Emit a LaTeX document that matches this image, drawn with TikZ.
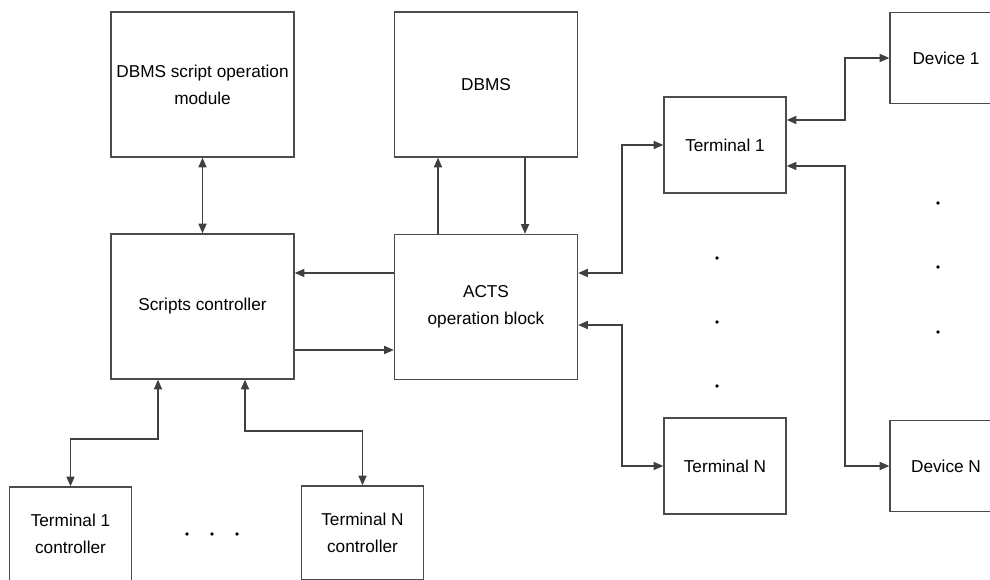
\documentclass[tikz,border=0pt]{standalone}
\usepackage{fontspec}
\setmainfont{Liberation Sans}
\usetikzlibrary{arrows.meta}
\newcommand{\blockfont}{\fontsize{9.8}{15.3}\selectfont}
\tikzstyle{block}=[draw=black!70, line width=0.8pt, inner sep=0pt, align=center, font=\blockfont]
\tikzstyle{main block}=[block, minimum width=3.66cm, minimum height=2.9cm]
\tikzstyle{terminal}=[block, minimum width=2.44cm, minimum height=1.92cm]
\tikzstyle{device}=[block, minimum width=2.24cm, minimum height=1.82cm]
\tikzstyle{link}=[draw=black!75, line width=0.8pt, -{Triangle[length=5.5pt,width=4.6pt]}]
\tikzstyle{two way}=[link, {Triangle[length=5.5pt,width=4.6pt]}-{Triangle[length=5.5pt,width=4.6pt]}]

\begin{document}
\begin{tikzpicture}[x=0.02cm, y=0.02cm]
  \useasboundingbox (0,0) rectangle (990,580);
  \clip (0,0) rectangle (990,580);
  % blocks
  \node[main block] (dsom) at (202.5,495.5) {DBMS script operation\\module};
  \node[main block] (dbms) at (486,495.5) {DBMS};
  \node[main block] (sctl) at (202.5,273.5) {Scripts controller};
  \node[main block] (acts) at (486,273) {ACTS\\operation block};
  \node[terminal] (term1) at (725,435) {Terminal 1};
  \node[terminal] (termn) at (725,114) {Terminal N};
  \node[device] (dev1) at (946,522) {Device 1};
  \node[device] (devn) at (946,114) {Device N};
  \node[terminal, minimum height=1.88cm] (tctl1) at (70.5,46) {Terminal 1\\controller};
  \node[terminal, minimum height=1.88cm] (tctln) at (362.5,47) {Terminal N\\controller};
  \coordinate (bus t) at (622,0);
  \coordinate (bus d) at (845,0);
  % links
  \draw[two way] (dsom) -- (sctl);
  \draw[link] (acts.west |- 0,307) -- (sctl.east |- 0,307);
  \draw[link] (sctl.east |- 0,230) -- (acts.west |- 0,230);
  \draw[link] (acts.north -| 438,0) -- (dbms.south -| 438,0);
  \draw[link] (dbms.south -| 525,0) -- (acts.north -| 525,0);
  \draw[two way] (acts.east |- 0,307) -| (bus t |- term1.west) -- (term1.west);
  \draw[two way] (acts.east |- 0,255) -| (bus t |- termn.west) -- (termn.west);
  \draw[two way] (term1.east |- 0,460) -| (bus d |- dev1.west) -- (dev1.west);
  \draw[two way] (term1.east |- 0,414) -| (bus d |- devn.west) -- (devn.west);
  \draw[two way] (sctl.south -| 158,0) |- (tctl1.north |- 0,141) -- (tctl1.north);
  \draw[two way] (sctl.south -| 245,0) |- (tctln.north |- 0,149) -- (tctln.north);
  % dots
  \foreach \x in {187,212,237} \fill (\x,46) circle (1.8);
  \foreach \y in {322,258,194} \fill (717,\y) circle (1.8);
  \foreach \y in {377,313,248} \fill (938,\y) circle (1.8);
\end{tikzpicture}
\end{document}
